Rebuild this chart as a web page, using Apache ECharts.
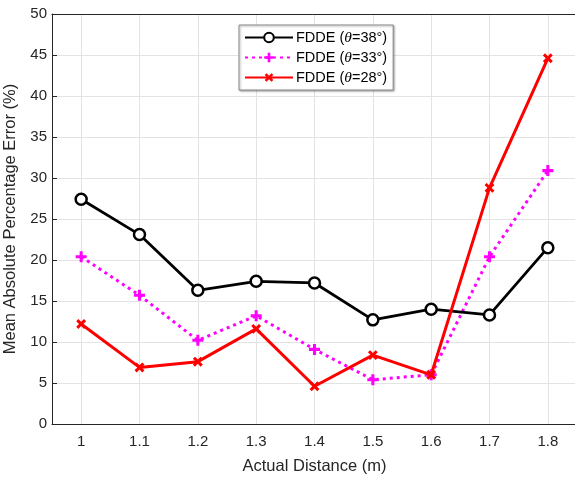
<!DOCTYPE html>
<html><head><meta charset="utf-8">
<script src="https://cdn.jsdelivr.net/npm/echarts@6/dist/echarts.min.js"></script>
<style>html,body{margin:0;padding:0;background:#fff}#c{width:575px;height:477px}</style>
</head><body><div id="c"></div>
<script>
const categories = ['1','1.1','1.2','1.3','1.4','1.5','1.6','1.7','1.8'];
const theta38 = [27.4, 23.1, 16.3, 17.4, 17.2, 12.7, 14.0, 13.3, 21.5];
const theta33 = [20.4, 15.7, 10.2, 13.2, 9.1, 5.4, 6.0, 20.4, 30.9];
const theta28 = [12.2, 6.9, 7.6, 11.6, 4.6, 8.4, 6.0, 28.8, 44.6];
const seriesNames = ['FDDE (θ=38°)', 'FDDE (θ=33°)', 'FDDE (θ=28°)'];
const yTicks = [0,5,10,15,20,25,30,35,40,45,50];

const FONT = 'Liberation Sans, Arial, Helvetica, sans-serif';
const plusPath = 'path://M-1.1,-4L1.1,-4L1.1,-1.1L4,-1.1L4,1.1L1.1,1.1L1.1,4L-1.1,4L-1.1,1.1L-4,1.1L-4,-1.1L-1.1,-1.1Z';
const chart = echarts.init(document.getElementById('c'), null, {renderer:'canvas'});
const gridLineStyle = {color:'#e3e3e3', width:1};
chart.setOption({
  animation:false,
  grid:{left:52, top:14, width:525, height:410, containLabel:false, outerBoundsMode:'none'},
  legend:{
    orient:'vertical', left:239, top:25, width:152,
    padding:[4,6,4,5], itemGap:3, itemWidth:48, itemHeight:12,
    backgroundColor:'#fff', borderColor:'#8c8c8c', borderWidth:1,
    shadowColor:'rgba(0,0,0,0.35)', shadowBlur:2, shadowOffsetX:1, shadowOffsetY:1,
    data: seriesNames,
    formatter: function(n){ return n.replace('θ','{t|θ}'); },
    textStyle:{fontFamily:FONT, fontSize:14.5, lineHeight:17, color:'#000', padding:[0,0,0,-2],
      rich:{t:{fontFamily:'Liberation Serif, serif', fontStyle:'italic', fontSize:15.5, lineHeight:17, color:'#000'}}}
  },
  xAxis:[{
    type:'category', data:categories, boundaryGap:true,
    name:'Actual Distance (m)', nameLocation:'middle', nameGap:34,
    nameTextStyle:{fontFamily:FONT, fontSize:16.5, color:'#262626'},
    axisLine:{lineStyle:{color:'#262626', width:1}},
    axisTick:{alignWithLabel:true, inside:true, length:5, lineStyle:{color:'#262626'}},
    axisLabel:{fontFamily:FONT, fontSize:15, color:'#262626', margin:10},
    splitLine:{show:true, alignWithLabel:true, lineStyle:gridLineStyle}
  },{
    type:'category', data:categories, boundaryGap:true, position:'top',
    axisLine:{lineStyle:{color:'#262626', width:1}},
    axisTick:{alignWithLabel:true, inside:true, length:5, lineStyle:{color:'#262626'}},
    axisLabel:{show:false}, splitLine:{show:false}
  }],
  yAxis:[{
    type:'value', min:0, max:50, interval:5,
    name:'Mean Absolute Percentage Error (%)', nameLocation:'middle', nameGap:26,
    nameTextStyle:{fontFamily:FONT, fontSize:16.5, color:'#262626'},
    axisLine:{show:true, lineStyle:{color:'#262626', width:1}},
    axisTick:{show:true, inside:true, length:5, lineStyle:{color:'#262626'}},
    axisLabel:{fontFamily:FONT, fontSize:15, color:'#262626', margin:5,
      formatter:function(v){ return yTicks.indexOf(v)>=0 ? String(v) : ''; }},
    splitLine:{show:true, lineStyle:gridLineStyle}
  }],
  series:[
    {name:seriesNames[0], type:'line', data:theta38, symbol:'circle', symbolSize:11,
     itemStyle:{color:'#fff', borderColor:'#000', borderWidth:2.5},
     lineStyle:{color:'#000', width:2.8}, z:3},
    {name:seriesNames[1], type:'line', data:theta33, symbol:plusPath, symbolSize:11,
     itemStyle:{color:'#ff00ff', borderWidth:0},
     lineStyle:{color:'#ff00ff', width:3, type:[3,4]}, z:2},
    {name:seriesNames[2], type:'line', data:theta28, symbol:plusPath, symbolSize:11, symbolRotate:45,
     itemStyle:{color:'#ff0000', borderWidth:0},
     lineStyle:{color:'#ff0000', width:3}, z:4}
  ]
});
</script></body></html>
